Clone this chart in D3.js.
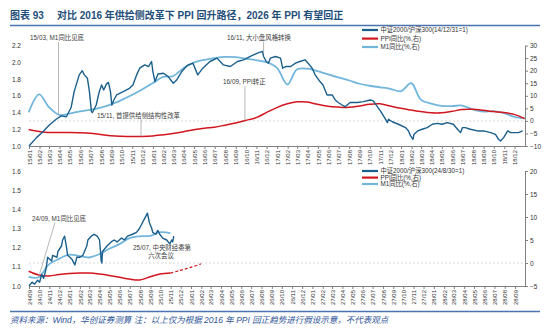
<!DOCTYPE html>
<html lang="zh">
<head>
<meta charset="UTF-8">
<title>PPI回升路径</title>
<script src="https://d3js.org/d3.v7.min.js"></script>
<style>
  body { margin: 0; background: #fff; }
  svg text { font-family: "Liberation Sans", Arial, "Noto Sans CJK SC", sans-serif; }
</style>
</head>
<body>
<div id="chart"></div>
<script>
// ---------- data: top panel (2015-2018) ----------
// 中证2000/沪深300, 14/12/31=1
const topIdx = [
  ["2015-01-01",1.00],["2015-01-23",1.10],["2015-02-11",1.17],["2015-03-02",1.25],["2015-03-22",1.32],["2015-04-06",1.36],
  ["2015-04-21",1.35],["2015-05-05",1.46],["2015-05-14",1.65],["2015-05-29",1.85],["2015-06-07",1.90],["2015-06-13",1.85],
  ["2015-06-22",1.81],["2015-06-28",1.65],["2015-07-04",1.41],["2015-07-07",1.40],["2015-07-18",1.49],["2015-07-27",1.65],
  ["2015-08-03",1.73],["2015-08-09",1.67],["2015-08-17",1.74],["2015-08-23",1.76],["2015-08-29",1.65],["2015-09-02",1.49],
  ["2015-09-08",1.55],["2015-09-16",1.61],["2015-10-01",1.64],["2015-10-24",1.69],["2015-11-03",1.73],["2015-11-14",1.85],
  ["2015-11-23",1.93],["2015-12-08",1.97],["2015-12-19",1.95],["2015-12-28",2.01],["2016-01-01",1.89],["2016-01-07",1.77],
  ["2016-01-16",1.86],["2016-02-01",1.87],["2016-02-15",1.83],["2016-03-01",1.75],["2016-03-11",1.79],["2016-03-26",1.89],
  ["2016-04-10",1.96],["2016-04-28",1.99],["2016-05-12",1.85],["2016-05-27",1.93],["2016-06-17",2.01],["2016-07-08",2.05],
  ["2016-07-26",1.97],["2016-08-16",1.95],["2016-09-06",2.01],["2016-09-24",2.03],["2016-10-14",2.07],["2016-11-04",2.11],
  ["2016-11-19",2.13],["2016-11-22",2.07],["2016-11-30",2.01],["2016-12-06",1.99],["2016-12-12",2.05],["2016-12-27",2.07],
  ["2017-01-11",2.05],["2017-01-17",1.93],["2017-01-26",1.95],["2017-02-10",1.95],["2017-02-24",1.99],["2017-03-09",2.01],
  ["2017-03-24",2.03],["2017-04-02",1.99],["2017-04-14",1.93],["2017-04-23",1.85],["2017-05-07",1.77],["2017-05-16",1.73],
  ["2017-05-28",1.61],["2017-06-12",1.61],["2017-06-21",1.55],["2017-06-30",1.52],["2017-07-11",1.49],["2017-07-20",1.47],
  ["2017-08-04",1.52],["2017-08-25",1.52],["2017-09-12",1.53],["2017-10-02",1.55],["2017-10-11",1.54],["2017-10-23",1.47],
  ["2017-11-01",1.42],["2017-11-16",1.32],["2017-11-22",1.28],["2017-11-25",1.32],["2017-12-06",1.29],["2017-12-24",1.26],
  ["2018-01-14",1.22],["2018-01-23",1.18],["2018-01-29",1.12],["2018-02-05",1.08],["2018-02-08",1.14],["2018-02-19",1.18],
  ["2018-03-04",1.20],["2018-03-19",1.22],["2018-04-03",1.26],["2018-04-17",1.27],["2018-05-02",1.26],["2018-05-17",1.28],
  ["2018-06-04",1.26],["2018-06-16",1.20],["2018-06-25",1.16],["2018-07-01",1.22],["2018-07-09",1.22],["2018-07-24",1.20],
  ["2018-08-14",1.18],["2018-09-01",1.18],["2018-09-22",1.16],["2018-10-06",1.14],["2018-10-15",1.08],["2018-10-21",1.06],
  ["2018-10-30",1.10],["2018-11-11",1.18],["2018-11-20",1.16],["2018-12-13",1.16],["2018-12-25",1.18]
];

const topMonths = [
  "2014-12",
  "2015-01","2015-02","2015-03","2015-04","2015-05","2015-06","2015-07","2015-08","2015-09","2015-10","2015-11","2015-12",
  "2016-01","2016-02","2016-03","2016-04","2016-05","2016-06","2016-07","2016-08","2016-09","2016-10","2016-11","2016-12",
  "2017-01","2017-02","2017-03","2017-04","2017-05","2017-06","2017-07","2017-08","2017-09","2017-10","2017-11","2017-12",
  "2018-01","2018-02","2018-03","2018-04","2018-05","2018-06","2018-07","2018-08","2018-09","2018-10","2018-11","2018-12"
];
const topPPI = [
  -3.4,
  -4.2, -4.6, -4.6, -4.6, -4.7, -4.9, -5.4, -5.9, -6.1, -6.2, -6.2, -6.0,
  -5.5, -5.0, -4.3, -3.5, -2.9, -2.5, -1.7, -0.8, 0.2, 1.3, 3.3, 5.3,
  6.8, 7.6, 7.5, 6.6, 5.8, 5.5, 5.4, 5.9, 6.6, 6.8, 5.9, 5.0,
  4.3, 3.7, 3.2, 3.2, 3.8, 4.5, 4.6, 4.2, 3.7, 3.3, 2.6, 0.9
];
const topM1 = [
  3.4,
  10.6, 5.6, 2.4, 2.9, 3.8, 4.4, 5.3, 6.6, 8.3, 10.3, 12.5, 15.0,
  17.5, 17.8, 21.0, 23.2, 24.3, 25.0, 25.5, 25.4, 24.8, 24.2, 23.4, 21.2,
  14.5, 20.5, 20.8, 19.8, 18.5, 17.3, 16.2, 14.8, 14.0, 13.4, 12.8, 11.8,
  15.0, 8.5, 6.9, 6.0, 5.9, 6.1, 4.6, 3.7, 3.9, 3.1, 1.6, 1.0
];

// ---------- data: bottom panel (2024-2028) ----------
// 中证2000/沪深300, 24/8/30=1
const botIdx = [
  ["2024-09-01",1.00],["2024-09-10",1.02],["2024-09-18",1.01],["2024-09-27",1.03],["2024-10-03",1.02],["2024-10-09",1.06],
  ["2024-10-15",1.04],["2024-10-21",1.08],["2024-10-24",1.11],["2024-10-27",1.15],["2024-11-08",1.13],["2024-11-11",1.16],
  ["2024-11-24",1.15],["2024-11-27",1.18],["2024-12-08",1.21],["2024-12-11",1.24],["2024-12-17",1.26],["2024-12-23",1.20],
  ["2024-12-26",1.16],["2025-01-02",1.15],["2025-01-08",1.14],["2025-01-11",1.13],["2025-01-17",1.11],["2025-01-23",1.15],
  ["2025-02-01",1.15],["2025-02-10",1.16],["2025-02-22",1.21],["2025-02-25",1.24],["2025-03-07",1.26],["2025-03-16",1.27],
  ["2025-03-25",1.26],["2025-04-01",1.24],["2025-04-04",1.18],["2025-04-06",1.13],["2025-04-08",1.12],["2025-04-10",1.18],
  ["2025-04-24",1.21],["2025-05-06",1.23],["2025-05-15",1.24],["2025-05-24",1.23],["2025-06-06",1.25],["2025-06-15",1.24],
  ["2025-06-24",1.26],["2025-07-09",1.27],["2025-07-21",1.28],["2025-07-30",1.30],["2025-08-08",1.33],["2025-08-14",1.35],
  ["2025-08-20",1.37],["2025-08-23",1.38],["2025-08-29",1.33],["2025-09-05",1.30],["2025-09-08",1.28],["2025-09-17",1.27],
  ["2025-09-23",1.29],["2025-09-29",1.27],["2025-10-08",1.25],["2025-10-20",1.24],["2025-10-29",1.22],["2025-11-04",1.24],
  ["2025-11-07",1.23],["2025-11-10",1.26]
];

const botMonths = [
  "2024-08","2024-09","2024-10","2024-11","2024-12",
  "2025-01","2025-02","2025-03","2025-04","2025-05","2025-06","2025-07","2025-08","2025-09","2025-10"
];
const botPPI = [-1.8, -2.6, -2.8, -2.5, -2.3, -2.2, -2.2, -2.4, -2.7, -3.1, -3.5, -3.7, -3.0, -2.4, -2.2];
const botM1 = [-3.0, -3.1, -0.3, 0.9, 1.8, 1.5, 1.2, 1.9, 3.1, 4.1, 5.4, 5.8, 5.9, 6.7, 6.5];

// PPI 假设路径 (dashed)
const ppiPathMonths = ["2025-10","2025-11","2025-12","2026-01"];
const ppiPathVals = [-2.2, -1.6, -0.95, -0.2];

const legendTop = ["中证2000/沪深300(14/12/31=1)", "PPI同比(%,右)", "M1同比(%,右)"];
const legendBot = ["中证2000/沪深300(24/8/30=1)", "PPI同比(%,右)", "M1同比(%,右)"];

// ---------- drawing ----------
const C_IDX = "#1b5f8c", C_PPI = "#d2161e", C_M1 = "#72b6dc";
const SERIF = '"Liberation Serif", "Noto Sans CJK SC", serif';
const CJK = '"Liberation Sans", "Noto Sans CJK SC", sans-serif';

const parseDay = d3.timeParse("%Y-%m-%d");
const parseMonth = d3.timeParse("%Y-%m");
// monthly data sits at month end
const monthEnd = m => d3.timeDay.offset(d3.timeMonth.offset(parseMonth(m), 1), -1);

const svg = d3.select("#chart").append("svg")
  .attr("width", 550)
  .attr("height", 330);

// title
svg.append("text").attr("x", 10).attr("y", 18.5)
  .attr("font-family", SERIF).attr("font-weight", "bold").attr("font-size", 10)
  .attr("fill", "#1f4e79").text("图表 93");
svg.append("text").attr("x", 57).attr("y", 18.5)
  .attr("font-family", SERIF).attr("font-weight", "bold").attr("font-size", 10)
  .attr("fill", "#1f4e79").text("对比 2016 年供给侧改革下 PPI 回升路径，2026 年 PPI 有望回正");
svg.append("line").attr("x1", 10).attr("x2", 540).attr("y1", 25.5).attr("y2", 25.5)
  .attr("stroke", "#4a73b0").attr("stroke-width", 1.5);

function panel(o) {
  const x = d3.scaleTime().domain(o.xDomain).range([29, 525]);
  const yL = d3.scaleLinear().domain(o.leftDomain).range([o.y0, o.y1]);
  const yR = d3.scaleLinear().domain(o.rightDomain).range([o.y0, o.y1]);

  // dashed line at right-axis zero
  svg.append("line")
    .attr("x1", 29).attr("x2", 525).attr("y1", yR(0)).attr("y2", yR(0))
    .attr("stroke", "#cfcfcf").attr("stroke-width", 0.8).attr("stroke-dasharray", "2,2");

  const gl = svg.append("g").attr("transform", "translate(29,0)")
    .call(d3.axisLeft(yL).tickValues(o.leftTicks).tickSize(0).tickPadding(8).tickFormat(d3.format(".1f")));
  gl.select(".domain").remove();
  gl.selectAll("text").attr("font-size", 6.5).attr("fill", "#333");

  const gr = svg.append("g").attr("transform", "translate(525,0)")
    .call(d3.axisRight(yR).tickValues(o.rightTicks).tickSize(3).tickSizeOuter(0).tickPadding(2));
  gr.select(".domain").attr("stroke", "#808080");
  gr.selectAll("line").attr("stroke", "#808080");
  gr.selectAll("text").attr("font-size", 6.5).attr("fill", "#333");

  const gx = svg.append("g").attr("transform", "translate(0," + o.y0 + ")")
    .call(d3.axisBottom(x).tickValues(d3.timeMonth.range(o.xDomain[0], o.xDomain[1]).slice(0, o.nTicks))
      .tickSize(3).tickSizeOuter(0).tickFormat(d3.timeFormat("%y/%m")));
  gx.select(".domain").attr("stroke", "#808080");
  gx.selectAll("line").attr("stroke", "#808080");
  gx.selectAll("text")
    .attr("transform", "rotate(-90)")
    .attr("text-anchor", "end")
    .attr("x", -4).attr("y", 0).attr("dy", "0.35em")
    .attr("font-size", 6).attr("fill", "#333");

  const smooth = d3.line().x(d => x(d[0])).y(d => yR(d[1])).curve(d3.curveCatmullRom.alpha(0.5));

  svg.append("path")
    .datum(o.months.map((m, i) => [monthEnd(m), o.m1[i]]))
    .attr("fill", "none").attr("stroke", C_M1).attr("stroke-width", 1.8)
    .attr("d", smooth);

  svg.append("path")
    .datum(o.months.map((m, i) => [monthEnd(m), o.ppi[i]]))
    .attr("fill", "none").attr("stroke", C_PPI).attr("stroke-width", 1.5)
    .attr("d", smooth);

  if (o.ppiPath) {
    svg.append("path")
      .datum(o.ppiPath.months.map((m, i) => [monthEnd(m), o.ppiPath.vals[i]]))
      .attr("fill", "none").attr("stroke", C_PPI).attr("stroke-width", 1.2)
      .attr("stroke-dasharray", "3,2")
      .attr("d", smooth);
  }

  svg.append("path")
    .datum(o.idx.map(d => [parseDay(d[0]), d[1]]))
    .attr("fill", "none").attr("stroke", C_IDX).attr("stroke-width", 1.4)
    .attr("stroke-linejoin", "round")
    .attr("d", d3.line().x(d => x(d[0])).y(d => yL(d[1])));

  // legend
  const colors = [C_IDX, C_PPI, C_M1];
  o.legend.forEach((t, i) => {
    const y = o.legendY[i];
    svg.append("line").attr("x1", 362).attr("x2", 378).attr("y1", y).attr("y2", y)
      .attr("stroke", colors[i]).attr("stroke-width", 2.2);
    svg.append("text").attr("x", 380.5).attr("y", y + 2.3)
      .attr("font-family", CJK).attr("font-size", 6.3).attr("fill", "#333").text(t);
  });

  return { x, yL, yR };
}

const topP = panel({
  xDomain: [new Date(2015, 0, 1), new Date(2019, 0, 1)], nTicks: 48,
  y0: 146, y1: 45.6,
  leftDomain: [1, 2.2], leftTicks: [1.0, 1.2, 1.4, 1.6, 1.8, 2.0, 2.2],
  rightDomain: [-10, 30], rightTicks: [-10, -5, 0, 5, 10, 15, 20, 25, 30],
  months: topMonths, ppi: topPPI, m1: topM1, idx: topIdx,
  legend: legendTop, legendY: [30, 38.6, 47]
});

const botP = panel({
  xDomain: [new Date(2024, 8, 1), new Date(2028, 9, 1)], nTicks: 49,
  y0: 286, y1: 171,
  leftDomain: [1, 1.6], leftTicks: [1.0, 1.1, 1.2, 1.3, 1.4, 1.5, 1.6],
  rightDomain: [-5, 20], rightTicks: [-5, 0, 5, 10, 15, 20],
  months: botMonths, ppi: botPPI, m1: botM1, idx: botIdx,
  ppiPath: { months: ppiPathMonths, vals: ppiPathVals },
  legend: legendBot, legendY: [171, 177.6, 184]
});

// ---------- annotations ----------
function note(txt, tx, ty, x1, y1, x2, y2, anchor) {
  if (x1 !== null) {
    svg.append("line").attr("x1", x1).attr("y1", y1).attr("x2", x2).attr("y2", y2)
      .attr("stroke", "#a6a6a6").attr("stroke-width", 0.8);
  }
  svg.append("text").attr("x", tx).attr("y", ty)
    .attr("text-anchor", anchor || "start")
    .attr("font-family", CJK).attr("font-size", 6.4).attr("fill", "#404040").text(txt);
}

let ax = topP.x(parseDay("2015-03-29"));
note("15/03, M1同比见底", 30, 40, ax, 42, ax, topP.yR(2.5));
ax = topP.x(parseDay("2015-11-27"));
note("15/11, 首提供给侧结构性改革", 97, 117.5, ax, 119.5, ax, topP.yR(-6.2));
ax = topP.x(parseDay("2016-11-22"));
note("16/11, 大小盘风格转换", 227, 39.5, ax, 41.5, ax, topP.yL(2.11));
ax = topP.x(parseDay("2016-09-28"));
note("16/09, PPI转正", 223, 84, ax, 86, ax, topP.yR(0.3));

note("24/09, M1同比见底", 32, 220.5, 55, 222.5, botP.x(monthEnd("2024-09")), botP.yR(-3.1));
note("25/07, 中央财经委第", 162, 250, null, 0, 0, 0, "middle");
note("六次会议", 161, 258, null, 0, 0, 0, "middle");

// ---------- footer ----------
svg.append("line").attr("x1", 10).attr("x2", 540).attr("y1", 311.5).attr("y2", 311.5)
  .attr("stroke", "#4a73b0").attr("stroke-width", 1.5);
svg.append("text").attr("x", 10).attr("y", 322.5)
  .attr("font-family", SERIF).attr("font-style", "italic").attr("font-size", 8.5)
  .attr("fill", "#2f5597")
  .text("资料来源：Wind，华创证券测算    注：以上仅为根据 2016 年 PPI 回正趋势进行假设示意，不代表观点");
</script>
</body>
</html>
